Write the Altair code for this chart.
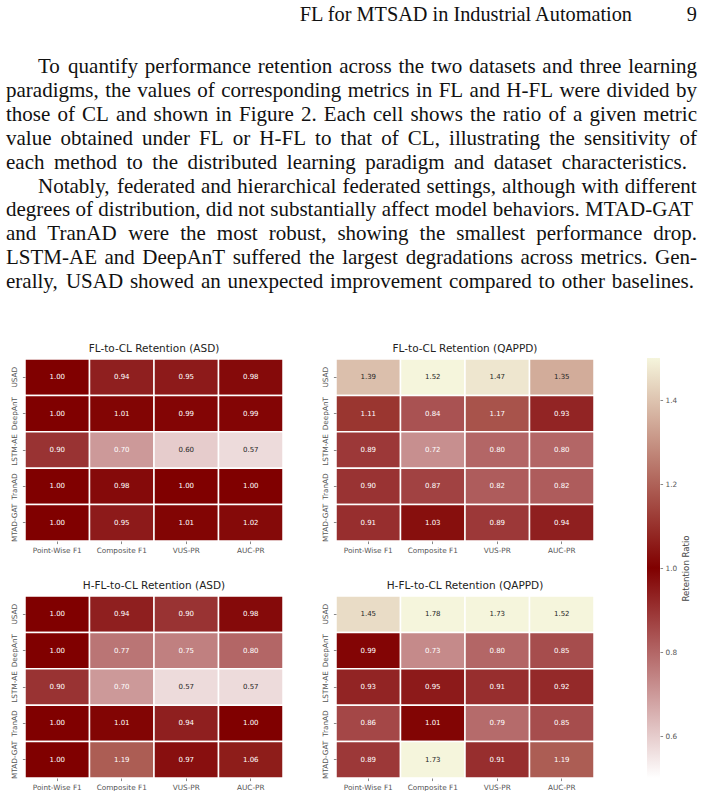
import altair as alt
import pandas as pd

# ---------------- page text ----------------
running_head = "FL for MTSAD in Industrial Automation"
page_number = "9"
paragraph_1 = [
    "To quantify performance retention across the two datasets and three learning",
    "paradigms, the values of corresponding metrics in FL and H-FL were divided by",
    "those of CL and shown in Figure 2. Each cell shows the ratio of a given metric",
    "value obtained under FL or H-FL to that of CL, illustrating the sensitivity of",
    "each method to the distributed learning paradigm and dataset characteristics.",
]
paragraph_2 = [
    "Notably, federated and hierarchical federated settings, although with different",
    "degrees of distribution, did not substantially affect model behaviors. MTAD-GAT",
    "and TranAD were the most robust, showing the smallest performance drop.",
    "LSTM-AE and DeepAnT suffered the largest degradations across metrics. Gen-",
    "erally, USAD showed an unexpected improvement compared to other baselines.",
]

# ---------------- heatmap data ----------------
models = ["USAD", "DeepAnT", "LSTM-AE", "TranAD", "MTAD-GAT"]
metrics = ["Point-Wise F1", "Composite F1", "VUS-PR", "AUC-PR"]

fl_asd = [
    [1.00, 0.94, 0.95, 0.98],
    [1.00, 1.01, 0.99, 0.99],
    [0.90, 0.70, 0.60, 0.57],
    [1.00, 0.98, 1.00, 1.00],
    [1.00, 0.95, 1.01, 1.02],
]
fl_qappd = [
    [1.39, 1.52, 1.47, 1.35],
    [1.11, 0.84, 1.17, 0.93],
    [0.89, 0.72, 0.80, 0.80],
    [0.90, 0.87, 0.82, 0.82],
    [0.91, 1.03, 0.89, 0.94],
]
hfl_asd = [
    [1.00, 0.94, 0.90, 0.98],
    [1.00, 0.77, 0.75, 0.80],
    [0.90, 0.70, 0.57, 0.57],
    [1.00, 1.01, 0.94, 1.00],
    [1.00, 1.19, 0.97, 1.06],
]
hfl_qappd = [
    [1.45, 1.78, 1.73, 1.52],
    [0.99, 0.73, 0.80, 0.85],
    [0.93, 0.95, 0.91, 0.92],
    [0.86, 1.01, 0.79, 0.85],
    [0.89, 1.73, 0.91, 1.19],
]
panel_titles = [
    "FL-to-CL Retention (ASD)",
    "FL-to-CL Retention (QAPPD)",
    "H-FL-to-CL Retention (ASD)",
    "H-FL-to-CL Retention (QAPPD)",
]

# colour map: white -> maroon (at 1.0) -> beige
cmap_domain = [0.5, 1.0, 1.5]
cmap_colors = ["#ffffff", "#800000", "#f5f5dc"]
cbar_ticks = [0.6, 0.8, 1.0, 1.2, 1.4]

# ---------------- text layout helpers ----------------
# advance widths of Liberation Serif (Times metrics), 1/1000 em
_upper = dict(zip("ABCDEFGHIJKLMNOPQRSTUVWXYZ",
                  [722, 667, 667, 722, 611, 556, 722, 722, 333, 389, 722, 611, 889,
                   722, 722, 556, 722, 667, 556, 611, 722, 722, 944, 722, 722, 611]))
_lower = dict(zip("abcdefghijklmnopqrstuvwxyz",
                  [444, 500, 444, 500, 444, 333, 500, 500, 278, 278, 500, 278, 778,
                   500, 500, 500, 500, 333, 389, 278, 500, 500, 722, 500, 500, 444]))
GLYPH_W = {**_upper, **_lower, " ": 250, ",": 250, ".": 250, "-": 333,
           "(": 333, ")": 333, ":": 278}
for d in "0123456789":
    GLYPH_W[d] = 500


def text_width(s, size):
    return sum(GLYPH_W.get(ch, 500) for ch in s) / 1000.0 * size


TEXT_LEFT = 6
TEXT_RIGHT = 697
PARA_INDENT = 32
BODY_SIZE = 21
HEAD_SIZE = 20.3
HEAD_Y = 12
FIRST_LINE_Y = 64
LEADING = 23.9
LAST_LINE_RIGHT = {(0, 4): 687, (1, 4): 694}

rows = []
k = 0
for p, para in enumerate([paragraph_1, paragraph_2]):
    for j, line in enumerate(para):
        words = line.split(" ")
        left = TEXT_LEFT + (PARA_INDENT if j == 0 else 0)
        right = LAST_LINE_RIGHT.get((p, j), TEXT_RIGHT)
        widths = [text_width(w, BODY_SIZE) for w in words]
        gap = (right - left - sum(widths)) / (len(words) - 1)
        x = left
        for w, wd in zip(words, widths):
            rows.append({"word": w, "x": x, "y": FIRST_LINE_Y + k * LEADING})
            x += wd + gap
        k += 1
body_df = pd.DataFrame(rows)
head_df = pd.DataFrame({"word": [running_head, page_number],
                        "x": [632, TEXT_RIGHT], "y": [HEAD_Y, HEAD_Y]})

# ---------------- page text chart ----------------
PANEL_W, PANEL_H = 258, 182
LEFT_MARGIN = 25
TEXT_H = 301

xs = alt.Scale(domain=[0, 705], range=[-LEFT_MARGIN, 705 - LEFT_MARGIN], nice=False, zero=False)
ys = alt.Scale(domain=[0, TEXT_H], range=[0, TEXT_H], nice=False, zero=False)

body = alt.Chart(body_df).mark_text(
    font="Liberation Serif", fontSize=BODY_SIZE, align="left", baseline="middle", color="#111111"
).encode(x=alt.X("x:Q", scale=xs, axis=None), y=alt.Y("y:Q", scale=ys, axis=None), text="word:N")

head = alt.Chart(head_df).mark_text(
    font="Liberation Serif", fontSize=HEAD_SIZE, align="right", baseline="middle", color="#111111"
).encode(x=alt.X("x:Q", scale=xs, axis=None), y=alt.Y("y:Q", scale=ys, axis=None), text="word:N")

anchor = alt.Chart(pd.DataFrame({"a": [0]})).mark_rect(opacity=0).encode(
    x=alt.value(-LEFT_MARGIN), x2=alt.value(-LEFT_MARGIN + 1), y=alt.value(0), y2=alt.value(1)
)

page_text = alt.layer(anchor, head, body).properties(width=PANEL_W, height=TEXT_H)


def blank():
    return alt.Chart(pd.DataFrame({"a": [0]})).mark_point(opacity=0).encode(
        x=alt.value(0), y=alt.value(0)
    ).properties(width=1, height=1)


# ---------------- heatmap panels ----------------
color_scale = alt.Scale(domain=cmap_domain, range=cmap_colors, clamp=True, interpolate="rgb")


def panel(values, title):
    df = pd.DataFrame([
        {"model": m, "metric": mt, "ratio": values[i][j]}
        for i, m in enumerate(models) for j, mt in enumerate(metrics)
    ])
    base = alt.Chart(df).encode(
        x=alt.X("metric:N", sort=metrics, title=None,
                scale=alt.Scale(paddingInner=0, paddingOuter=0),
                axis=alt.Axis(labelAngle=0, labelPadding=3, labelOverlap=False)),
        y=alt.Y("model:N", sort=models, title=None,
                scale=alt.Scale(paddingInner=0, paddingOuter=0),
                axis=alt.Axis(labelAngle=270, labelAlign="center", labelBaseline="bottom",
                              labelPadding=4, labelOverlap=False)),
    )
    cells = base.mark_rect(stroke="white", strokeWidth=1.5).encode(
        color=alt.Color("ratio:Q", scale=color_scale, legend=None)
    )
    labels = base.mark_text(font="DejaVu Sans", fontSize=7).encode(
        text=alt.Text("ratio:Q", format=".2f"),
        color=alt.condition("datum.ratio < 0.66 || datum.ratio > 1.33",
                            alt.value("#262626"), alt.value("#ffffff")),
    )
    return alt.layer(cells, labels).properties(
        width=PANEL_W, height=PANEL_H, title=alt.TitleParams(title, anchor="middle")
    )


# ---------------- colour bar ----------------
lo, hi = cmap_domain[0], cmap_domain[-1]
span = hi - lo
stops = [
    {"offset": (v - lo) / span, "color": c} for v, c in zip(cmap_domain, cmap_colors)
]
CBAR_H = 420
cbar = alt.Chart(pd.DataFrame({"lo": [lo], "hi": [hi]})).mark_rect(
    fill={"gradient": "linear", "x1": 0, "x2": 0, "y1": 1, "y2": 0, "stops": stops}
).encode(
    x=alt.value(0), x2=alt.value(13),
    y=alt.Y("lo:Q", scale=alt.Scale(domain=[lo, hi], range=[CBAR_H - 1, -1], nice=False, zero=False),
            axis=alt.Axis(orient="right", values=cbar_ticks, format=".1f", title="Retention Ratio",
                          titleAngle=270, titleBaseline="top", titlePadding=5,
                          titleFont="DejaVu Sans", titleFontSize=8.6, titleFontWeight="normal",
                          titleColor="#444444", labelPadding=2.5)),
    y2="hi:Q",
).properties(width=13, height=PANEL_H)

p1 = panel(fl_asd, panel_titles[0])
p2 = panel(fl_qappd, panel_titles[1])
p3 = panel(hfl_asd, panel_titles[2])
p4 = panel(hfl_qappd, panel_titles[3])

chart = alt.concat(
    page_text, blank(), blank(),
    p1, p2, cbar,
    p3, p4,
    columns=3, spacing={"row": 55, "column": 53}, bounds="flush", align="each",
    padding=0,
).configure_view(stroke=None).configure_axis(
    labelFont="DejaVu Sans", labelFontSize=7.3, labelColor="#555555",
    tickColor="#555555", tickSize=2.6, tickWidth=0.7, domain=False, grid=False,
).configure_title(
    font="DejaVu Sans", fontSize=10.5, fontWeight="normal", color="#222222", offset=4
)

chart.save("out.html", embed_options={"renderer": "svg", "actions": False})
